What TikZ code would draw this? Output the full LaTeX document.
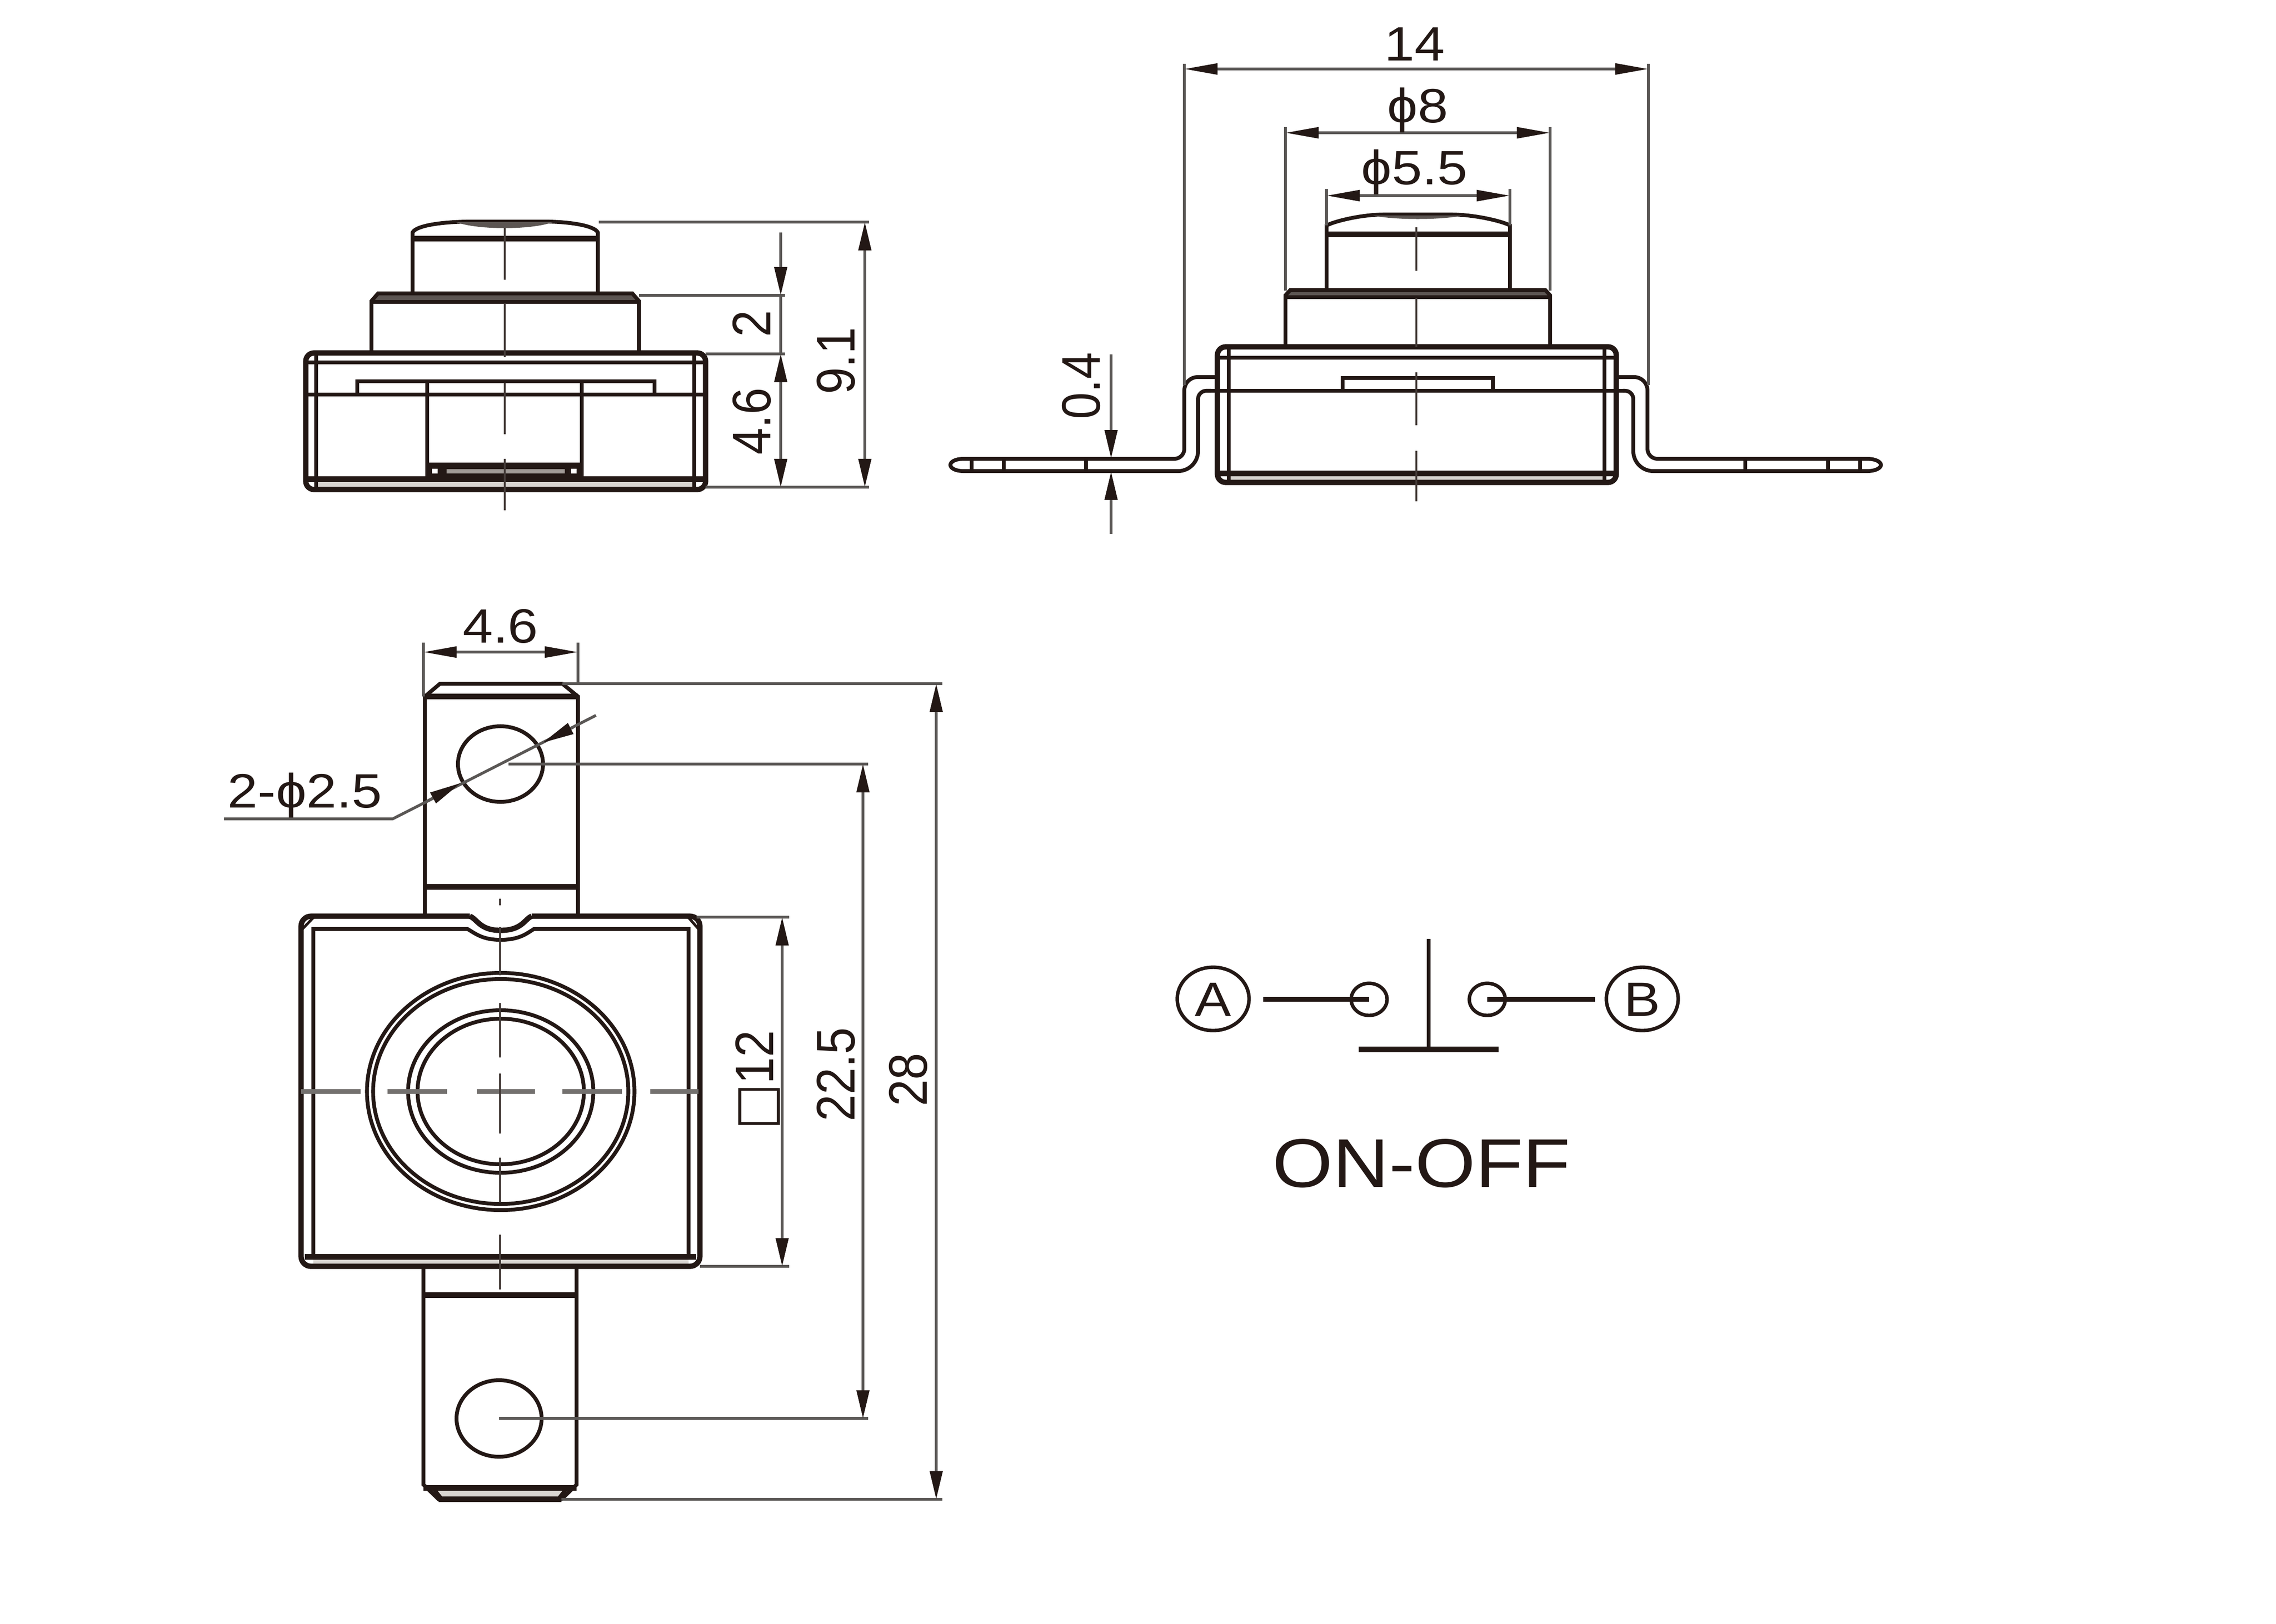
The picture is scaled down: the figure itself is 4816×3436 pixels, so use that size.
\documentclass[tikz,border=0pt]{standalone}
\usepackage{fontspec}
\usepackage{graphicx}
\setmainfont{Liberation Sans}
\newfontfamily\sqfont{DejaVu Sans}
\usetikzlibrary{arrows.meta}
\definecolor{ink}{HTML}{231815}
\definecolor{dimc}{HTML}{5A5755}
\definecolor{bandc}{HTML}{D9D5D1}
\definecolor{darkb}{HTML}{5C5552}
\newcommand{\htxt}[1]{\scalebox{1.127}[1]{#1}}
\newcommand{\vtxt}[1]{\scalebox{1}[1.127]{#1}}
\tikzset{
  vt/.tip={Triangle[length=17pt,width=7.5pt,color=ink,fill=ink]},
  ht/.tip={Triangle[length=20pt,width=6.5pt,color=ink,fill=ink]},
  obj/.style={line width=2.3pt,draw=ink},
  objthick/.style={line width=3.2pt,draw=ink},
  objthin/.style={line width=1.6pt,draw=ink},
  ctr/.style={line width=1.3pt,draw=ink!85},
  ctrh/.style={line width=2.6pt,draw=dimc!85},
  dimline/.style={line width=1.7pt,draw=dimc},
  lab/.style={inner sep=0pt,text=ink,font=\fontsize{29pt}{32pt}\selectfont,text height=20.8pt,text depth=0pt},
  rlab/.style={inner sep=0pt,text=ink,font=\fontsize{29pt}{32pt}\selectfont,rotate=90,text height=23.4pt,text depth=0pt},
  big/.style={inner sep=0pt,text=ink,font=\fontsize{41.5pt}{44pt}\selectfont,text height=30pt,text depth=0pt},
  sch/.style={line width=2.9pt,draw=ink},
  schc/.style={line width=2.1pt,draw=ink}
}
\begin{document}
\begin{tikzpicture}[x=0.01cm,y=-0.01cm]
\useasboundingbox[fill=white] (0,0) rectangle (4816,3436);

% ---------- top-left side view ----------
\draw[obj] (873,621) -- (873,492) .. controls (880,478) and (930,470) .. (988,469) -- (1161,469) .. controls (1210,470) and (1258,478) .. (1265,492) -- (1265,621);
\fill[darkb] (965,470) .. controls (1010,487) and (1125,487) .. (1170,470) -- cycle;
\draw[objthick] (873,505) -- (1265,505);
\fill[darkb] (786,639) -- (798,621) -- (1340,621) -- (1352,639) -- cycle;
\draw[obj] (786,747) -- (786,637) -- (800,621) -- (1338,621) -- (1352,637) -- (1352,747);
\draw[obj] (786,639) -- (1352,639);
\fill[bandc] (669,1018) rectangle (1469,1032);
\draw[objthick,rounded corners=5pt] (647,747) rectangle (1493,1036);
\draw[obj] (669,747) -- (669,1036) (1469,747) -- (1469,1036);
\draw[obj] (647,767) -- (1493,767);
\draw[obj] (647,835) -- (1493,835);
\draw[objthick] (647,1014) -- (1493,1014);
\draw[obj] (756,835) -- (756,807) -- (1385,807) -- (1385,835);
\draw[obj] (904,807) -- (904,1014) (1231,807) -- (1231,1014);
\fill[ink] (908,979) rectangle (1229,1017);
\fill[bandc!70!ink] (945,993) rectangle (1195,1002);
\fill[white] (914,992) rectangle (926,1002) (1208,992) rectangle (1220,1002);
\draw[ctr] (1068,483) -- (1068,592) (1068,642) -- (1068,756) (1068,810) -- (1068,919) (1068,971) -- (1068,1080);
\draw[dimline] (1267,470) -- (1839,470) (1352,625) -- (1661,625) (1493,749) -- (1661,749) (1493,1031) -- (1839,1031);
\draw[dimline,-{vt}] (1652,492) -- (1652,625);
\draw[dimline] (1652,625) -- (1652,749);
\draw[dimline,{vt}-{vt}] (1652,749) -- (1652,1031);
\draw[dimline,{vt}-{vt}] (1830,470) -- (1830,1031);
\node[rlab] (d2) at (1589,685) {\vtxt{2}};
\node[rlab] (d46a) at (1589,892) {\vtxt{4.6}};
\node[rlab] (d91) at (1767,764) {\vtxt{9.1}};

% ---------- top-right side view ----------
\draw[obj] (2807,614) -- (2807,477) .. controls (2825,468) and (2880,454) .. (2930,454) -- (3070,454) .. controls (3120,454) and (3178,468) .. (3195,477) -- (3195,614);
\fill[darkb] (2905,456) .. controls (2950,466) and (3050,466) .. (3095,456) -- cycle;
\draw[objthick] (2807,496) -- (3195,496);
\fill[darkb] (2720,629) -- (2728,614) -- (3272,614) -- (3280,629) -- cycle;
\draw[obj] (2720,734) -- (2720,625) -- (2730,614) -- (3270,614) -- (3280,625) -- (3280,734);
\draw[obj] (2720,629) -- (3280,629);
\fill[bandc] (2603,1004) rectangle (3393,1018);
\draw[objthick,rounded corners=5pt] (2576,734) rectangle (3420,1021);
\draw[obj] (2600,734) -- (2600,1021) (3395,734) -- (3395,1021);
\draw[obj] (2576,757) -- (3420,757);
\draw[objthick] (2576,1002) -- (3420,1002);
\draw[obj] (2562,827) -- (3434,827);
\draw[obj] (2841,827) -- (2841,800) -- (3159,800) -- (3159,827);
% left lead
\draw[obj] (2576,798) [rounded corners=8pt] -- (2506,798) [rounded corners=6pt] -- (2506,971) [sharp corners] -- (2040,971) .. controls (2020,971) and (2011,978) .. (2011,984) .. controls (2011,990) and (2020,997) .. (2040,997) [rounded corners=12pt] -- (2535,997) [rounded corners=5pt] -- (2535,827) [sharp corners] -- (2562,827);
\draw[obj] (2056,971) -- (2056,997) (2124,971) -- (2124,997) (2298,971) -- (2298,997);
% right lead
\draw[obj] (3420,798) [rounded corners=8pt] -- (3486,798) [rounded corners=6pt] -- (3486,971) [sharp corners] -- (3950,971) .. controls (3970,971) and (3980,978) .. (3980,984) .. controls (3980,990) and (3970,997) .. (3950,997) [rounded corners=12pt] -- (3456,997) [rounded corners=5pt] -- (3456,827) [sharp corners] -- (3434,827);
\draw[obj] (3693,971) -- (3693,997) (3868,971) -- (3868,997) (3936,971) -- (3936,997);
\draw[ctr] (2997,481) -- (2997,573) (2997,631) -- (2997,734) (2997,788) -- (2997,900) (2997,954) -- (2997,1061);
\draw[dimline] (2506,135) -- (2506,815) (3488,135) -- (3488,815);
\draw[dimline] (2720,269) -- (2720,615) (3280,269) -- (3280,615);
\draw[dimline] (2807,400) -- (2807,477) (3195,400) -- (3195,477);
\draw[dimline,{ht}-{ht}] (2506,146) -- (3488,146);
\draw[dimline,{ht}-{ht}] (2720,281) -- (3280,281);
\draw[dimline,{ht}-{ht}] (2807,414) -- (3195,414);
\draw[dimline,-{vt}] (2351,750) -- (2351,970);
\draw[dimline,-{vt}] (2351,1130) -- (2351,998);
\node[lab] (d14) at (2993,92) {\htxt{14}};
\node[lab] (dp8) at (3000,223) {\htxt{ϕ8}};
\node[lab] (dp55) at (2993,354) {\htxt{ϕ5.5}};
\node[rlab] (d04) at (2286,817) {\vtxt{0.4}};

% ---------- top view ----------
\draw[obj] (899,1939) -- (899,1474) -- (931,1447) -- (1190,1447) -- (1223,1474) -- (1223,1939);
\draw[objthick] (899,1474) -- (1223,1474);
\draw[objthick] (899,1877) -- (1223,1877);
\draw[obj] (1059,1617) ellipse [x radius=90,y radius=80];
\draw[obj] (896,2680) -- (896,3142) -- (928,3173) -- (1188,3173) -- (1220,3142) -- (1220,2680);
\fill[bandc] (925,3155) -- (1192,3155) -- (1182,3170) -- (935,3170) -- cycle;
\draw[objthick] (896,3149) -- (1220,3149);
\draw[obj] (916,3149) -- (935,3173) (1200,3149) -- (1181,3173);
\draw[objthick] (928,3173) -- (1188,3173);
\draw[objthick] (896,2741) -- (1220,2741);
\draw[obj] (1056,3002) ellipse [x radius=90,y radius=81];
\fill[white] (700,1942) rectangle (701,1943);
\fill[bandc] (663,2664) rectangle (1457,2676);
\draw[objthick,rounded corners=6pt] (994,1939) -- (637,1939) -- (637,2680) -- (1481,2680) -- (1481,1939) -- (1125,1939);
\draw[objthick] (994,1939) .. controls (1010,1945) and (1015,1969) .. (1059,1969) .. controls (1105,1969) and (1110,1945) .. (1125,1939);
\draw[obj] (663,2660) -- (663,1966) -- (989,1966) .. controls (1005,1975) and (1020,1989) .. (1059,1989) .. controls (1100,1989) and (1115,1975) .. (1130,1966) -- (1457,1966) -- (1457,2660);
\draw[objthick] (645,2660) -- (1473,2660);
\draw[objthin] (640,1966) -- (663,1942) (1457,1942) -- (1478,1966);
\draw[obj] (1059.5,2310) ellipse [x radius=283,y radius=251];
\draw[obj] (1059.5,2310) ellipse [x radius=270,y radius=238];
\draw[obj] (1059.5,2310) ellipse [x radius=196,y radius=172];
\draw[obj] (1059.5,2310) ellipse [x radius=176,y radius=154];
\draw[ctrh] (637,2310) -- (763,2310) (820,2310) -- (946,2310) (1009,2310) -- (1132,2310) (1190,2310) -- (1316,2310) (1376,2310) -- (1478,2310);
\draw[ctr] (1058,1902) -- (1058,1916) (1058,1962) -- (1058,2064) (1058,2123) -- (1058,2238) (1058,2272) -- (1058,2399) (1058,2450) -- (1058,2545) (1058,2613) -- (1058,2729);
\draw[dimline] (896,1360) -- (896,1474) (1223,1360) -- (1223,1447);
\draw[dimline,{ht}-{ht}] (896,1380) -- (1223,1380);
\draw[dimline] (1190,1447) -- (1994,1447);
\draw[dimline] (1076,1617) -- (1837,1617);
\draw[dimline] (1474,1941) -- (1670,1941);
\draw[dimline] (1481,2680) -- (1670,2680);
\draw[dimline] (1056,3002) -- (1837,3002);
\draw[dimline] (1188,3173) -- (1994,3173);
\draw[dimline,{vt}-{vt}] (1655,1941) -- (1655,2680);
\draw[dimline,{vt}-{vt}] (1826,1617) -- (1826,3002);
\draw[dimline,{vt}-{vt}] (1981,1447) -- (1981,3173);
\coordinate (la) at (1261,1514);
\coordinate (lb) at (831,1733);
\coordinate (lc) at (474,1733);
\draw[dimline] (la) -- (lb) -- (lc);
\draw[dimline,-{Triangle[length=19pt,width=7pt,color=ink,fill=ink]}] (1213,1539) -- (1148,1572);
\draw[dimline,-{Triangle[length=19pt,width=7pt,color=ink,fill=ink]}] (905,1695) -- (975,1657);
\node[lab] (d46b) at (1059,1324) {\htxt{4.6}};
\node[lab] (dh) at (645,1673) {\htxt{2-ϕ2.5}};
\node[rlab] (d12) at (1595,2286) {\vtxt{{\sqfont □}12}};
\node[rlab] (d225) at (1767,2274) {\vtxt{22.5}};
\node[rlab] (d28) at (1920,2285) {\vtxt{28}};

% ---------- schematic ----------
\node[lab] (A) at (2567,2114) {\htxt{A}};
\node[lab] (B) at (3475,2114) {\htxt{B}};
\draw[schc] (A) ellipse [x radius=76,y radius=67];
\draw[schc] (B) ellipse [x radius=76,y radius=67];
\coordinate (ca) at (2897,2115);
\coordinate (cb) at (3147,2115);
\draw[schc] (ca) ellipse [x radius=38,y radius=34];
\draw[schc] (cb) ellipse [x radius=38,y radius=34];
\coordinate (pa) at (2673,2115);
\coordinate (pb) at (3375,2115);
\draw[sch] (pa) -- (ca);
\draw[sch] (pb) -- (cb);
\coordinate (st) at (3023,1987);
\coordinate (sb) at (3023,2221);
\coordinate (bl) at (2875,2221);
\coordinate (br) at (3171,2221);
\draw[line width=2.4pt,draw=ink] (st) -- (sb);
\draw[line width=3.2pt,draw=ink] (bl) -- (br);
\node[big] (onoff) at (3008,2460) {\htxt{ON-OFF}};
\end{tikzpicture}
\end{document}
